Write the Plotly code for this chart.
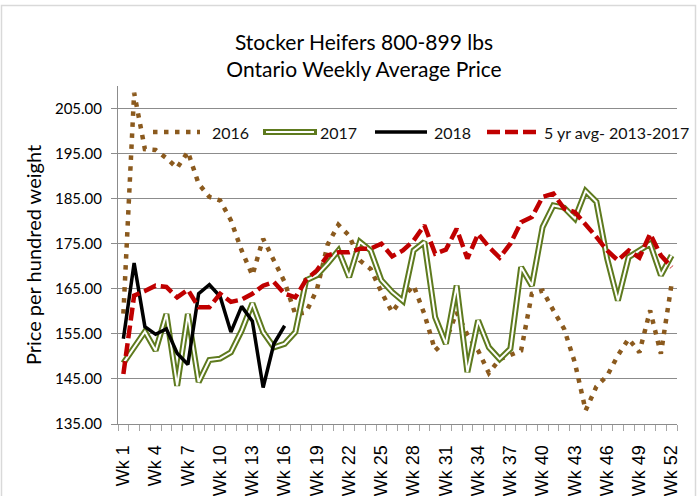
import plotly.graph_objects as go

weeks = list(range(1, 53))
tick_weeks = list(range(1, 53, 3))
tick_labels = [f"Wk {w}" for w in tick_weeks]

y2016 = [159.5, 208.5, 196.0, 195.8, 194.0, 191.8, 195.4, 188.3, 185.4, 184.6,
         180.2, 173.5, 168.0, 176.1, 171.3, 166.5, 159.3, 159.8, 164.8, 174.8,
         179.2, 176.8, 171.3, 169.4, 164.3, 159.8, 163.1, 165.7, 159.4, 151.3,
         153.5, 159.8, 154.8, 151.3, 146.3, 149.4, 150.3, 151.3, 163.9, 164.6,
         160.2, 156.1, 148.6, 138.0, 143.3, 145.7, 150.2, 153.9, 150.9, 160.2,
         150.6, 166.1]
y2017 = [148.5, 152.0, 155.5, 151.3, 159.4, 143.5, 159.4, 144.3, 149.2, 149.5,
         150.9, 155.7, 161.8, 155.4, 152.0, 152.8, 155.4, 166.9, 168.0, 170.6,
         173.5, 167.6, 175.4, 173.5, 166.9, 164.3, 162.3, 173.5, 175.4, 158.7,
         152.8, 165.7, 146.5, 158.0, 152.0, 149.4, 151.7, 169.8, 165.7, 178.7,
         183.5, 183.0, 180.6, 186.7, 184.3, 171.7, 162.4, 172.0, 173.5, 175.0,
         168.0, 172.4]
y2018 = [153.9, 170.7, 156.6, 154.9, 156.1, 150.7, 148.2, 163.9, 165.9, 163.3,
         155.4, 161.1, 157.8, 143.1, 152.8, 156.8]
y5yr = [146.1, 163.5, 164.5, 165.7, 165.4, 163.1, 164.8, 160.9, 160.9, 163.9,
        162.1, 162.6, 163.9, 165.7, 166.5, 163.9, 163.1, 167.0, 169.1, 172.4,
        173.1, 173.1, 173.9, 173.9, 175.0, 172.2, 173.5, 175.7, 179.1, 172.8,
        173.7, 178.3, 171.7, 177.2, 174.3, 171.9, 175.0, 179.8, 180.9, 185.4,
        186.1, 182.8, 182.0, 179.4, 176.5, 173.5, 171.3, 173.5, 171.9, 177.2,
        172.4, 169.8]

series_names = ["2016", "2017", "2018", "5 yr avg- 2013-2017"]

BROWN = "#8B5A1E"
GREEN = "#5E7A1E"
RED = "#C00000"
GRID = "#8C8C8C"
FONT = "Lato"
DOT = "4.5px,6.5px"
DASH = "13px,5px"

fig = go.Figure()
fig.add_trace(go.Scatter(x=weeks, y=y2016, mode="lines", name=series_names[0],
                         line=dict(color=BROWN, width=4.5, dash=DOT)))
fig.add_trace(go.Scatter(x=weeks, y=y2017, mode="lines", name=series_names[1],
                         legendgroup="2017",
                         line=dict(color=GREEN, width=6)))
fig.add_trace(go.Scatter(x=weeks, y=y2017, mode="lines", name=series_names[1],
                         legendgroup="2017", hoverinfo="skip",
                         line=dict(color="white", width=2)))
fig.add_trace(go.Scatter(x=weeks[:len(y2018)], y=y2018, mode="lines", name=series_names[2],
                         line=dict(color="black", width=3.5)))
fig.add_trace(go.Scatter(x=weeks, y=y5yr, mode="lines", name=series_names[3],
                         line=dict(color=RED, width=4.5, dash=DASH)))

W, H = 700, 496
L, R, T, B = 118, 23, 86, 72
pw, ph = W - L - R, H - T - B


def px(x):
    return (x - L) / pw


def py(y):
    return (H - B - y) / ph


# legend (drawn as layout decoration in paper coordinates)
leg_y = py(132)
shapes = [
    dict(type="rect", xref="paper", yref="paper",
         x0=px(1.5), x1=px(695.5), y0=py(500), y1=py(5.5),
         line=dict(color="#D9D9D9", width=1.5), layer="below"),
    dict(type="line", xref="paper", yref="paper", x0=px(153), x1=px(200), y0=leg_y, y1=leg_y,
         line=dict(color=BROWN, width=4.5, dash=DOT)),
    dict(type="line", xref="paper", yref="paper", x0=px(263), x1=px(317), y0=leg_y, y1=leg_y,
         line=dict(color=GREEN, width=6)),
    dict(type="line", xref="paper", yref="paper", x0=px(266), x1=px(314), y0=leg_y, y1=leg_y,
         line=dict(color="white", width=2)),
    dict(type="line", xref="paper", yref="paper", x0=px(375), x1=px(427), y0=leg_y, y1=leg_y,
         line=dict(color="black", width=3.5)),
    dict(type="line", xref="paper", yref="paper", x0=px(487), x1=px(539), y0=leg_y, y1=leg_y,
         line=dict(color=RED, width=4.5, dash=DASH)),
]
text_x = [210, 318, 432, 542]
annotations = [
    dict(text=name, xref="paper", yref="paper", x=px(tx), y=leg_y,
         xanchor="left", yanchor="middle", showarrow=False,
         font=dict(family=FONT, size=16, color="#111111"))
    for name, tx in zip(series_names, text_x)
]

fig.update_layout(
    width=W, height=H,
    margin=dict(l=L, r=R, t=T, b=B, autoexpand=False),
    paper_bgcolor="white", plot_bgcolor="white",
    font=dict(family=FONT, size=14, color="black"),
    title=dict(text="Stocker Heifers 800-899 lbs<br>Ontario Weekly Average Price",
               x=364 / W, xref="container", xanchor="center",
               y=1 - 50 / H, yref="container", yanchor="middle",
               font=dict(family=FONT, size=21, color="black")),
    showlegend=False,
    shapes=shapes,
    annotations=annotations,
)

fig.update_xaxes(
    range=[0.5, 52.5], tickmode="array", tickvals=tick_weeks, ticktext=tick_labels,
    tickangle=-90, ticks="", showgrid=False, zeroline=False, automargin=False,
    showline=True, linecolor=GRID, linewidth=1, ticklabelstandoff=13,
    tickfont=dict(family="Liberation Sans", size=18, color="black"),
    minor=dict(tickmode="linear", tick0=0.5, dtick=1, ticks="outside",
               ticklen=6, tickcolor="#A6A6A6", showgrid=False),
)
fig.update_yaxes(
    range=[135, 210], tickmode="linear", tick0=135, dtick=10, tickformat=".2f",
    showgrid=True, gridcolor=GRID, gridwidth=1, zeroline=False, automargin=False,
    showline=True, linecolor=GRID, linewidth=1,
    ticks="outside", ticklen=6, tickcolor=GRID, ticklabelstandoff=6,
    tickfont=dict(family=FONT, size=15, color="black"),
    title=dict(text="Price per hundred weight", font=dict(family=FONT, size=20),
               standoff=7),
)

fig.write_html("out.html", config={"displayModeBar": False},
               post_script="document.body.style.margin='0';")
